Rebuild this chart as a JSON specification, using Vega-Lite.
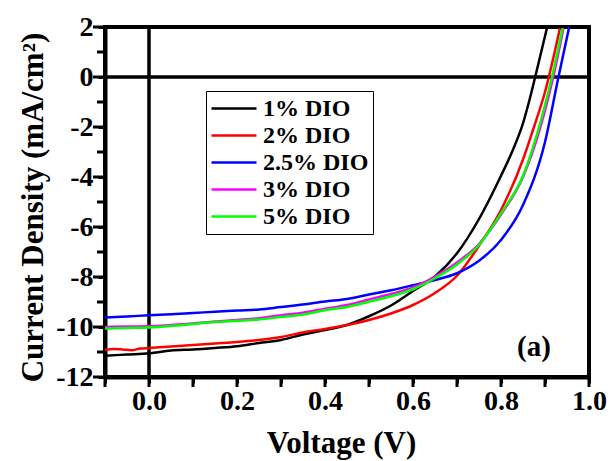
{
  "$schema": "https://vega.github.io/schema/vega-lite/v6.json",
  "autosize": {"type": "none"},
  "padding": {"left": 105, "top": 27, "right": 24, "bottom": 84},
  "width": 484,
  "height": 350,
  "background": "white",
  "config": {
    "view": {"stroke": "black", "strokeWidth": 4},
    "font": "Liberation Serif",
    "axis": {
      "ticks": true,
      "tickColor": "#000000",
      "tickOpacity": 1,
      "tickWidth": 3,
      "tickSize": 7,
      "domain": true,
      "domainColor": "#000000",
      "domainWidth": 4,
      "grid": false
    }
  },
  "datasets": {
    "curves": [
      {"s": "1% DIO", "v": -0.1, "j": -11.15},
      {"s": "1% DIO", "v": -0.05, "j": -11.1},
      {"s": "1% DIO", "v": 0.0, "j": -11.05},
      {"s": "1% DIO", "v": 0.05, "j": -10.94},
      {"s": "1% DIO", "v": 0.1, "j": -10.9},
      {"s": "1% DIO", "v": 0.15, "j": -10.84},
      {"s": "1% DIO", "v": 0.2, "j": -10.77},
      {"s": "1% DIO", "v": 0.25, "j": -10.64},
      {"s": "1% DIO", "v": 0.3, "j": -10.52},
      {"s": "1% DIO", "v": 0.35, "j": -10.3},
      {"s": "1% DIO", "v": 0.4, "j": -10.12},
      {"s": "1% DIO", "v": 0.45, "j": -9.92},
      {"s": "1% DIO", "v": 0.5, "j": -9.57},
      {"s": "1% DIO", "v": 0.55, "j": -9.14},
      {"s": "1% DIO", "v": 0.6, "j": -8.56},
      {"s": "1% DIO", "v": 0.65, "j": -7.98},
      {"s": "1% DIO", "v": 0.7, "j": -7.05},
      {"s": "1% DIO", "v": 0.75, "j": -5.68},
      {"s": "1% DIO", "v": 0.8, "j": -3.95},
      {"s": "1% DIO", "v": 0.825, "j": -3.0},
      {"s": "1% DIO", "v": 0.85, "j": -1.85},
      {"s": "1% DIO", "v": 0.865, "j": -0.9},
      {"s": "1% DIO", "v": 0.877, "j": -0.05},
      {"s": "1% DIO", "v": 0.89, "j": 0.9},
      {"s": "1% DIO", "v": 0.905, "j": 2.0},

      {"s": "2% DIO", "v": -0.1, "j": -10.92},
      {"s": "2% DIO", "v": -0.08, "j": -10.88},
      {"s": "2% DIO", "v": -0.06, "j": -10.9},
      {"s": "2% DIO", "v": -0.04, "j": -10.93},
      {"s": "2% DIO", "v": -0.02, "j": -10.86},
      {"s": "2% DIO", "v": 0.0, "j": -10.84},
      {"s": "2% DIO", "v": 0.05, "j": -10.78},
      {"s": "2% DIO", "v": 0.1, "j": -10.72},
      {"s": "2% DIO", "v": 0.15, "j": -10.66},
      {"s": "2% DIO", "v": 0.2, "j": -10.6},
      {"s": "2% DIO", "v": 0.25, "j": -10.52},
      {"s": "2% DIO", "v": 0.3, "j": -10.4},
      {"s": "2% DIO", "v": 0.35, "j": -10.22},
      {"s": "2% DIO", "v": 0.4, "j": -10.08},
      {"s": "2% DIO", "v": 0.45, "j": -9.92},
      {"s": "2% DIO", "v": 0.5, "j": -9.72},
      {"s": "2% DIO", "v": 0.55, "j": -9.46},
      {"s": "2% DIO", "v": 0.6, "j": -9.12},
      {"s": "2% DIO", "v": 0.65, "j": -8.64},
      {"s": "2% DIO", "v": 0.7, "j": -7.95},
      {"s": "2% DIO", "v": 0.75, "j": -6.75},
      {"s": "2% DIO", "v": 0.8, "j": -5.32},
      {"s": "2% DIO", "v": 0.85, "j": -3.3},
      {"s": "2% DIO", "v": 0.873, "j": -2.1},
      {"s": "2% DIO", "v": 0.9, "j": -0.6},
      {"s": "2% DIO", "v": 0.934, "j": 1.95},

      {"s": "2.5% DIO", "v": -0.1, "j": -9.62},
      {"s": "2.5% DIO", "v": -0.05, "j": -9.58},
      {"s": "2.5% DIO", "v": 0.0, "j": -9.53},
      {"s": "2.5% DIO", "v": 0.05, "j": -9.49},
      {"s": "2.5% DIO", "v": 0.1, "j": -9.44},
      {"s": "2.5% DIO", "v": 0.15, "j": -9.39},
      {"s": "2.5% DIO", "v": 0.2, "j": -9.34},
      {"s": "2.5% DIO", "v": 0.25, "j": -9.3},
      {"s": "2.5% DIO", "v": 0.3, "j": -9.2},
      {"s": "2.5% DIO", "v": 0.35, "j": -9.1},
      {"s": "2.5% DIO", "v": 0.4, "j": -8.98},
      {"s": "2.5% DIO", "v": 0.45, "j": -8.88},
      {"s": "2.5% DIO", "v": 0.5, "j": -8.7},
      {"s": "2.5% DIO", "v": 0.55, "j": -8.53},
      {"s": "2.5% DIO", "v": 0.6, "j": -8.33},
      {"s": "2.5% DIO", "v": 0.65, "j": -8.12},
      {"s": "2.5% DIO", "v": 0.7, "j": -7.85},
      {"s": "2.5% DIO", "v": 0.75, "j": -7.35},
      {"s": "2.5% DIO", "v": 0.8, "j": -6.52},
      {"s": "2.5% DIO", "v": 0.85, "j": -5.12},
      {"s": "2.5% DIO", "v": 0.9, "j": -2.6},
      {"s": "2.5% DIO", "v": 0.93, "j": -0.05},
      {"s": "2.5% DIO", "v": 0.955, "j": 2.0},

      {"s": "3% DIO", "v": -0.1, "j": -10.0},
      {"s": "3% DIO", "v": -0.05, "j": -9.98},
      {"s": "3% DIO", "v": 0.0, "j": -9.97},
      {"s": "3% DIO", "v": 0.05, "j": -9.92},
      {"s": "3% DIO", "v": 0.1, "j": -9.86},
      {"s": "3% DIO", "v": 0.15, "j": -9.78},
      {"s": "3% DIO", "v": 0.2, "j": -9.72},
      {"s": "3% DIO", "v": 0.25, "j": -9.65},
      {"s": "3% DIO", "v": 0.3, "j": -9.53},
      {"s": "3% DIO", "v": 0.35, "j": -9.43},
      {"s": "3% DIO", "v": 0.4, "j": -9.27},
      {"s": "3% DIO", "v": 0.45, "j": -9.12},
      {"s": "3% DIO", "v": 0.5, "j": -8.9},
      {"s": "3% DIO", "v": 0.55, "j": -8.68},
      {"s": "3% DIO", "v": 0.6, "j": -8.42},
      {"s": "3% DIO", "v": 0.65, "j": -7.98},
      {"s": "3% DIO", "v": 0.7, "j": -7.42},
      {"s": "3% DIO", "v": 0.75, "j": -6.68},
      {"s": "3% DIO", "v": 0.8, "j": -5.5},
      {"s": "3% DIO", "v": 0.85, "j": -4.0},
      {"s": "3% DIO", "v": 0.888, "j": -2.1},
      {"s": "3% DIO", "v": 0.918, "j": -0.05},
      {"s": "3% DIO", "v": 0.942, "j": 1.95},

      {"s": "5% DIO", "v": -0.1, "j": -10.06},
      {"s": "5% DIO", "v": -0.05, "j": -10.04},
      {"s": "5% DIO", "v": 0.0, "j": -10.02},
      {"s": "5% DIO", "v": 0.05, "j": -9.96},
      {"s": "5% DIO", "v": 0.1, "j": -9.88},
      {"s": "5% DIO", "v": 0.15, "j": -9.8},
      {"s": "5% DIO", "v": 0.2, "j": -9.75},
      {"s": "5% DIO", "v": 0.25, "j": -9.7},
      {"s": "5% DIO", "v": 0.3, "j": -9.6},
      {"s": "5% DIO", "v": 0.35, "j": -9.5},
      {"s": "5% DIO", "v": 0.4, "j": -9.33},
      {"s": "5% DIO", "v": 0.45, "j": -9.2},
      {"s": "5% DIO", "v": 0.5, "j": -8.99},
      {"s": "5% DIO", "v": 0.55, "j": -8.77},
      {"s": "5% DIO", "v": 0.6, "j": -8.49},
      {"s": "5% DIO", "v": 0.65, "j": -8.05},
      {"s": "5% DIO", "v": 0.7, "j": -7.5},
      {"s": "5% DIO", "v": 0.75, "j": -6.72},
      {"s": "5% DIO", "v": 0.8, "j": -5.45},
      {"s": "5% DIO", "v": 0.85, "j": -3.95},
      {"s": "5% DIO", "v": 0.885, "j": -2.1},
      {"s": "5% DIO", "v": 0.915, "j": -0.05},
      {"s": "5% DIO", "v": 0.94, "j": 1.95}
    ]
  },
  "layer": [
    {
      "data": {"values": [{"z": 0}]},
      "mark": {"type": "rule", "color": "black", "strokeWidth": 3.5},
      "encoding": {"x": {"field": "z", "type": "quantitative", "scale": {"domain": [-0.1, 1.0], "nice": false}}}
    },
    {
      "data": {"values": [{"z": 0}]},
      "mark": {"type": "rule", "color": "black", "strokeWidth": 3.5},
      "encoding": {"y": {"field": "z", "type": "quantitative", "scale": {"domain": [-12, 2], "nice": false}}}
    },
    {
      "data": {"values": [{"t": -0.1}, {"t": 0}, {"t": 0.1}, {"t": 0.2}, {"t": 0.3}, {"t": 0.4}, {"t": 0.5}, {"t": 0.6}, {"t": 0.7}, {"t": 0.8}, {"t": 0.9}, {"t": 1.0}]},
      "mark": {"type": "tick", "orient": "vertical", "color": "black", "size": 10, "thickness": 3, "yOffset": 5, "clip": false, "opacity": 1},
      "encoding": {
        "x": {"field": "t", "type": "quantitative"},
        "y": {"datum": -12, "type": "quantitative"}
      }
    },
    {
      "data": {"values": [{"t": -12}, {"t": -10}, {"t": -8}, {"t": -6}, {"t": -4}, {"t": -2}, {"t": 0}, {"t": 2}]},
      "mark": {"type": "tick", "orient": "horizontal", "color": "black", "size": 12, "thickness": 3, "xOffset": -6, "clip": false, "opacity": 1},
      "encoding": {
        "y": {"field": "t", "type": "quantitative"},
        "x": {"datum": -0.1, "type": "quantitative"}
      }
    },
    {
      "data": {"values": [{"t": -11}, {"t": -9}, {"t": -7}, {"t": -5}, {"t": -3}, {"t": -1}, {"t": 1}]},
      "mark": {"type": "tick", "orient": "horizontal", "color": "black", "size": 8, "thickness": 3, "xOffset": -4, "clip": false, "opacity": 1},
      "encoding": {
        "y": {"field": "t", "type": "quantitative"},
        "x": {"datum": -0.1, "type": "quantitative"}
      }
    },
    {
      "data": {"name": "curves"},
      "mark": {"type": "line", "strokeWidth": 2.5, "clip": true, "interpolate": "monotone"},
      "encoding": {
        "x": {
          "field": "v", "type": "quantitative",
          "scale": {"domain": [-0.1, 1.0], "nice": false},
          "axis": {
            "title": "Voltage (V)",
            "values": [-0.1, 0, 0.1, 0.2, 0.3, 0.4, 0.5, 0.6, 0.7, 0.8, 0.9, 1.0],
            "labelExpr": "round(datum.value*10) % 2 == 0 ? format(datum.value, '.1f') : ''",
            "labelFont": "Liberation Serif", "labelFontWeight": "bold", "labelFontSize": 28, "labelColor": "black",
            "labelPadding": 4, "labelFlush": false, "labelOverlap": false,
            "tickSize": 6,
            "titleFont": "Liberation Serif", "titleFontWeight": "bold", "titleFontSize": 31, "titleColor": "black",
            "titleX": 236, "titleY": 66, "titleBaseline": "middle", "titleAlign": "center"
          }
        },
        "y": {
          "field": "j", "type": "quantitative",
          "scale": {"domain": [-12, 2], "nice": false},
          "axis": {
            "title": "Current Density (mA/cm²)",
            "values": [-12, -11, -10, -9, -8, -7, -6, -5, -4, -3, -2, -1, 0, 1, 2],
            "labelExpr": "datum.value % 2 == 0 ? '' + datum.value : ''",
            "labelFont": "Liberation Serif", "labelFontWeight": "bold", "labelFontSize": 28, "labelColor": "black",
            "labelPadding": 5, "labelFlush": false, "labelOverlap": false,
            "tickSize": 7,
            "titleFont": "Liberation Serif", "titleFontWeight": "bold", "titleFontSize": 31, "titleColor": "black",
            "titleX": -72, "titleY": 180, "titleAngle": -90, "titleBaseline": "middle", "titleAlign": "center"
          }
        },
        "color": {
          "field": "s", "type": "nominal",
          "scale": {
            "domain": ["1% DIO", "2% DIO", "2.5% DIO", "3% DIO", "5% DIO"],
            "range": ["#000000", "#ff0000", "#0000ff", "#ff00ff", "#00ff00"]
          },
          "legend": {
            "title": null,
            "orient": "none", "legendX": 101, "legendY": 64,
            "symbolType": "stroke", "symbolSize": 2025, "symbolStrokeWidth": 2.5,
            "labelFont": "Liberation Serif", "labelFontWeight": "bold", "labelFontSize": 24, "labelColor": "black",
            "labelOffset": 5, "clipHeight": 27,
            "strokeColor": "black", "fillColor": "white",
            "padding": 4, "rowPadding": 0
          }
        }
      }
    },
    {
      "data": {"values": [{"v": 0.875, "j": -10.8, "label": "(a)"}]},
      "mark": {"type": "text", "font": "Liberation Serif", "fontWeight": "bold", "fontSize": 29, "color": "black", "align": "center", "baseline": "middle"},
      "encoding": {
        "x": {"field": "v", "type": "quantitative"},
        "y": {"field": "j", "type": "quantitative"},
        "text": {"field": "label"}
      }
    }
  ]
}
